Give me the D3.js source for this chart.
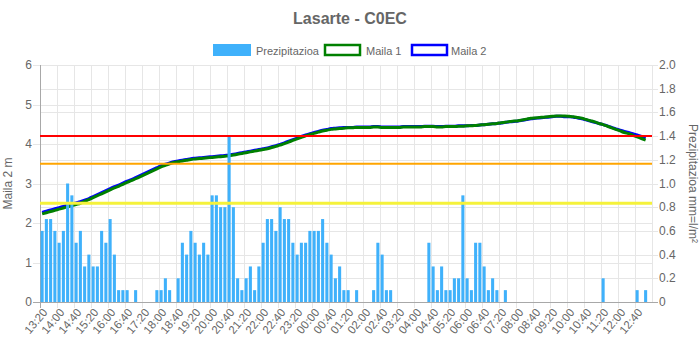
<!DOCTYPE html>
<html>
<head>
<meta charset="utf-8">
<script src="https://cdn.jsdelivr.net/npm/d3@7/dist/d3.min.js"></script>
<style>
  html, body { margin: 0; padding: 0; background: #fff; }
  svg { display: block; font-family: "Liberation Sans", Arial, Helvetica, sans-serif; }
</style>
</head>
<body>
<svg id="chart" width="700" height="350"></svg>
<script>
// 10-minute steps from 13:20 to 13:10 the next day
const startMinutes = 13 * 60 + 20;
const categoryCount = 144;
const times = [];
for (let i = 0; i < categoryCount; i++) {
  const m = (startMinutes + i * 10) % 1440;
  times.push(String(Math.floor(m / 60)).padStart(2, "0") + ":" + String(m % 60).padStart(2, "0"));
}

// Precipitation per 10 minutes (mm = l/m²)
const prezipitazioa = [
  0.6,0.7,0.7,0.6,0.5,0.6,1.0,0.9,0.5,0.6,
  0.3,0.4,0.3,0.3,0.6,0.5,0.7,0.4,0.1,0.1,
  0.1,0,0.1,0,0,0,0,0.1,0.1,0.2,
  0.1,0,0.2,0.5,0.4,0.6,0.5,0.4,0.5,0.4,
  0.9,0.9,0.8,0.8,1.4,0.8,0.2,0.1,0.2,0.3,
  0.1,0.3,0.5,0.7,0.7,0.6,0.8,0.7,0.7,0.5,
  0.4,0.5,0.5,0.6,0.6,0.6,0.7,0.5,0.4,0.2,
  0.3,0.1,0.1,0,0.1,0,0,0,0.1,0.5,
  0.4,0.1,0.1,0,0,0,0,0,0,0,
  0,0.5,0.3,0.1,0.3,0.1,0.1,0.2,0.2,0.9,
  0.2,0.1,0.5,0.5,0.3,0.1,0.2,0.1,0,0.1,
  0,0,0,0,0,0,0,0,0,0,
  0,0,0,0,0,0,0,0,0,0,
  0,0,0.2,0,0,0,0,0,0,0,
  0.1,0,0.1,0
];

// Water level (m)
const maila1 = [
  2.23,2.26,2.29,2.32,2.35,2.38,2.41,2.44,2.47,2.50,
  2.55,2.59,2.64,2.69,2.74,2.79,2.84,2.89,2.93,2.98,
  3.03,3.07,3.12,3.17,3.22,3.27,3.32,3.37,3.42,3.46,
  3.50,3.53,3.55,3.57,3.59,3.61,3.62,3.63,3.64,3.65,
  3.66,3.67,3.68,3.69,3.70,3.72,3.74,3.76,3.78,3.80,
  3.82,3.84,3.86,3.88,3.91,3.94,3.97,4.01,4.05,4.09,
  4.13,4.17,4.21,4.24,4.27,4.30,4.33,4.35,4.37,4.38,
  4.39,4.40,4.41,4.41,4.42,4.42,4.42,4.42,4.43,4.43,
  4.42,4.42,4.42,4.42,4.42,4.43,4.43,4.43,4.43,4.43,
  4.44,4.44,4.44,4.43,4.43,4.44,4.44,4.44,4.45,4.45,
  4.46,4.46,4.47,4.48,4.49,4.50,4.51,4.52,4.54,4.55,
  4.57,4.58,4.59,4.61,4.63,4.65,4.66,4.67,4.68,4.69,
  4.70,4.71,4.71,4.71,4.70,4.69,4.67,4.65,4.62,4.59,
  4.56,4.52,4.49,4.45,4.41,4.37,4.33,4.29,4.26,4.22,
  4.18,4.14,4.10
];
const maila2 = [
  2.27,2.30,2.33,2.36,2.39,2.42,2.45,2.48,2.51,2.54,
  2.58,2.62,2.67,2.72,2.77,2.82,2.87,2.92,2.96,3.01,
  3.06,3.10,3.15,3.20,3.25,3.30,3.35,3.40,3.45,3.49,
  3.52,3.55,3.57,3.59,3.61,3.63,3.64,3.65,3.66,3.67,
  3.68,3.69,3.70,3.71,3.72,3.74,3.76,3.78,3.80,3.82,
  3.84,3.86,3.88,3.90,3.93,3.96,3.99,4.03,4.07,4.11,
  4.15,4.19,4.23,4.26,4.29,4.32,4.35,4.37,4.39,4.40,
  4.41,4.42,4.42,4.42,4.43,4.43,4.43,4.43,4.44,4.44,
  4.43,4.43,4.43,4.43,4.43,4.44,4.44,4.44,4.44,4.44,
  4.45,4.45,4.45,4.44,4.44,4.45,4.45,4.45,4.46,4.46,
  4.46,4.47,4.47,4.48,4.49,4.50,4.51,4.52,4.53,4.55,
  4.56,4.57,4.58,4.60,4.62,4.64,4.65,4.66,4.67,4.68,
  4.69,4.70,4.70,4.69,4.69,4.68,4.66,4.64,4.61,4.58,
  4.55,4.52,4.49,4.46,4.42,4.38,4.35,4.32,4.29,4.26,
  4.23,4.19,4.15
];

// Alert thresholds (m)
const thresholds = [
  { value: 2.5, color: "#f5f23a", width: 3 },
  { value: 3.5, color: "#ffa500", width: 2 },
  { value: 4.2, color: "#ff0000", width: 2 }
];

const leftTicks = [0, 1, 2, 3, 4, 5, 6];
const rightTicks = [0, 0.2, 0.4, 0.6, 0.8, 1.0, 1.2, 1.4, 1.6, 1.8, 2.0];
const labelEvery = 4;

const legendItems = [
  { label: "Prezipitazioa", fill: "#3fb1fb", stroke: "none" },
  { label: "Maila 1", fill: "#fff", stroke: "#008000" },
  { label: "Maila 2", fill: "#fff", stroke: "#0000ff" }
];

const colors = { bar: "#3fb1fb", m1: "#008000", m2: "#0000ff", grid: "#e6e6e6", axis: "#a8a8a8", text: "#666" };

const W = 700, H = 350;
const plot = { left: 40, right: 652, top: 65, bottom: 302 };

const svg = d3.select("#chart");

const x = d3.scaleBand().domain(d3.range(categoryCount)).range([plot.left, plot.right]).paddingInner(0).paddingOuter(0);
const bw = x.bandwidth();
const xc = i => x(i) + bw / 2;
const yL = d3.scaleLinear().domain([0, 6]).range([plot.bottom, plot.top]);
const yR = d3.scaleLinear().domain([0, 2]).range([plot.bottom, plot.top]);

// Title
svg.append("text")
  .attr("x", W / 2).attr("y", 24)
  .attr("text-anchor", "middle")
  .attr("font-size", 16).attr("font-weight", "bold")
  .attr("fill", colors.text)
  .text("Lasarte - C0EC");

// Legend
const legendPos = [{ box: 213, text: 256 }, { box: 324, text: 366 }, { box: 411, text: 451 }];
const lg = svg.append("g");
legendItems.forEach((d, k) => {
  const p = legendPos[k];
  if (d.stroke === "none") {
    lg.append("rect").attr("x", p.box).attr("y", 44).attr("width", 38).attr("height", 12).attr("fill", d.fill);
  } else {
    lg.append("rect").attr("x", p.box + 1).attr("y", 45).attr("width", 35).attr("height", 10)
      .attr("fill", d.fill).attr("stroke", d.stroke).attr("stroke-width", 2.5);
  }
  lg.append("text").attr("x", p.text).attr("y", 54.5)
    .attr("font-size", 11).attr("fill", colors.text).text(d.label);
});

// Grid lines
const grid = svg.append("g").attr("shape-rendering", "crispEdges");
leftTicks.forEach(v => {
  grid.append("line").attr("x1", plot.left - 7).attr("x2", plot.right)
    .attr("y1", Math.round(yL(v)) + 0.5).attr("y2", Math.round(yL(v)) + 0.5)
    .attr("stroke", colors.grid);
});
rightTicks.forEach(v => {
  grid.append("line").attr("x1", plot.left).attr("x2", plot.right + 6)
    .attr("y1", Math.round(yR(v)) + 0.5).attr("y2", Math.round(yR(v)) + 0.5)
    .attr("stroke", colors.grid);
});
const labelled = d3.range(0, categoryCount - 2, labelEvery);
labelled.forEach(i => {
  const gx = Math.round(x(i)) + 0.5;
  grid.append("line").attr("x1", gx).attr("x2", gx)
    .attr("y1", plot.top).attr("y2", plot.bottom + 6)
    .attr("stroke", i === 0 ? colors.axis : colors.grid);
});
grid.append("line").attr("x1", plot.right + 0.5).attr("x2", plot.right + 0.5)
  .attr("y1", plot.top).attr("y2", plot.bottom).attr("stroke", colors.grid);
grid.append("line").attr("x1", plot.left - 7).attr("x2", plot.right + 6)
  .attr("y1", plot.bottom + 0.5).attr("y2", plot.bottom + 0.5).attr("stroke", colors.axis);

// Left axis labels
svg.append("g").selectAll("text").data(leftTicks).join("text")
  .attr("x", 32).attr("y", d => yL(d) + 4)
  .attr("text-anchor", "end").attr("font-size", 12).attr("fill", colors.text)
  .text(d => d);

// Right axis labels
svg.append("g").selectAll("text").data(rightTicks).join("text")
  .attr("x", 659).attr("y", d => yR(d) + 4)
  .attr("text-anchor", "start").attr("font-size", 12).attr("fill", colors.text)
  .text(d => d === 0 ? "0" : d.toFixed(1));

// Axis titles
svg.append("text")
  .attr("transform", `translate(12,${(plot.top + plot.bottom) / 2}) rotate(-90)`)
  .attr("text-anchor", "middle").attr("font-size", 12).attr("fill", colors.text)
  .text("Maila 2 m");
svg.append("text")
  .attr("transform", `translate(689,${(plot.top + plot.bottom) / 2}) rotate(90)`)
  .attr("text-anchor", "middle").attr("font-size", 12).attr("fill", colors.text)
  .text("Prezipitazioa mm=l/m²");

// X axis labels
svg.append("g").selectAll("text").data(labelled).join("text")
  .attr("transform", i => `translate(${xc(i) + 3},${plot.bottom + 8}) rotate(-50)`)
  .attr("text-anchor", "end").attr("dy", "0.35em")
  .attr("font-size", 11.5).attr("fill", colors.text)
  .text(i => times[i]);

// Water level lines
const lineGen = d3.line().x((d, i) => xc(i)).y(d => yL(d)).curve(d3.curveMonotoneX);
svg.append("path").datum(maila2).attr("d", lineGen)
  .attr("fill", "none").attr("stroke", colors.m2).attr("stroke-width", 3);
svg.append("path").datum(maila1).attr("d", lineGen)
  .attr("fill", "none").attr("stroke", colors.m1).attr("stroke-width", 3);

// Precipitation bars
const barW = bw * 0.72;
svg.append("g").selectAll("rect").data(prezipitazioa).join("rect")
  .attr("x", (d, i) => xc(i) - barW / 2)
  .attr("y", d => yR(d))
  .attr("width", barW)
  .attr("height", d => yR(0) - yR(d))
  .attr("fill", colors.bar);

// Threshold lines
svg.append("g").selectAll("line").data(thresholds).join("line")
  .attr("x1", plot.left).attr("x2", plot.right)
  .attr("y1", d => yL(d.value)).attr("y2", d => yL(d.value))
  .attr("stroke", d => d.color).attr("stroke-width", d => d.width);
</script>
</body>
</html>
